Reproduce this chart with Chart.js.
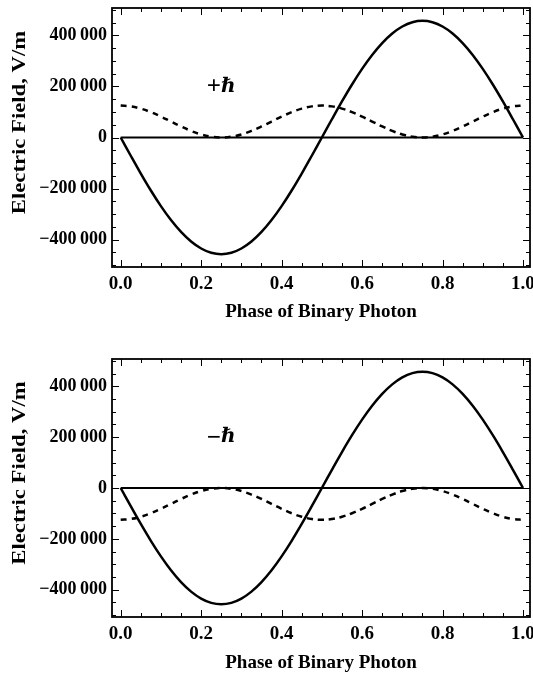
<!DOCTYPE html>
<html><head><meta charset="utf-8">
<script src="https://cdn.jsdelivr.net/npm/chart.js@4/dist/chart.umd.min.js"></script>
<style>html,body{margin:0;padding:0;background:#fff;width:533px;height:675px;overflow:hidden;} canvas{display:block;position:absolute;left:0;}</style>
</head><body>
<canvas id="c1" width="533" height="330" style="top:0px"></canvas>
<canvas id="c2" width="533" height="345" style="top:330px"></canvas>
<script>
const phase = [0, 0.025, 0.05, 0.075, 0.1, 0.125, 0.15, 0.175, 0.2, 0.225, 0.25, 0.275, 0.3, 0.325, 0.35, 0.375, 0.4, 0.425, 0.45, 0.475, 0.5, 0.525, 0.55, 0.575, 0.6, 0.625, 0.65, 0.675, 0.7, 0.725, 0.75, 0.775, 0.8, 0.825, 0.85, 0.875, 0.9, 0.925, 0.95, 0.975, 1];
const fieldSolid = [0, -71500, -141200, -207500, -268600, -323200, -369700, -407200, -434600, -451400, -457000, -451400, -434600, -407200, -369700, -323200, -268600, -207500, -141200, -71500, 0, 71500, 141200, 207500, 268600, 323200, 369700, 407200, 434600, 451400, 457000, 451400, 434600, 407200, 369700, 323200, 268600, 207500, 141200, 71500, 0];
const fieldDashedPlus = [125000, 121900, 113100, 99200, 81800, 62500, 43200, 25800, 11900, 3100, 0, 3100, 11900, 25800, 43200, 62500, 81800, 99200, 113100, 121900, 125000, 121900, 113100, 99200, 81800, 62500, 43200, 25800, 11900, 3100, 0, 3100, 11900, 25800, 43200, 62500, 81800, 99200, 113100, 121900, 125000];
const fieldDashedMinus = [-125000, -121900, -113100, -99200, -81800, -62500, -43200, -25800, -11900, -3100, 0, -3100, -11900, -25800, -43200, -62500, -81800, -99200, -113100, -121900, -125000, -121900, -113100, -99200, -81800, -62500, -43200, -25800, -11900, -3100, 0, -3100, -11900, -25800, -43200, -62500, -81800, -99200, -113100, -121900, -125000];
const zeroPhase = [0, 1];
const zeroField = [0, 0];
const xTickValues = [0, 0.2, 0.4, 0.6, 0.8, 1.0];
const xTickLabels = ['0.0', '0.2', '0.4', '0.6', '0.8', '1.0'];
const yTickValues = [-400000, -200000, 0, 200000, 400000];
const yTickLabels = ['\u2212400\u2009000', '\u2212200\u2009000', '0', '200\u2009000', '400\u2009000'];
const xMinorValues = [0.05, 0.1, 0.15, 0.25, 0.3, 0.35, 0.45, 0.5, 0.55, 0.65, 0.7, 0.75, 0.85, 0.9, 0.95];
const yMinorValues = [-500000, -450000, -350000, -300000, -250000, -150000, -100000, -50000, 50000, 100000, 150000, 250000, 300000, 350000, 450000, 500000];
const panelSigns = ['+', '\u2212'];
const panelSymbol = '\u210F';
const xTitle = 'Phase of Binary Photon';
const yTitle = 'Electric Field, V/m';

const SERIF = '"Liberation Serif", "Times New Roman", "DejaVu Serif", serif';

function pts(xs, ys) { return xs.map((x, i) => ({x: x, y: ys[i]})); }

function framePlugin(sign) {
  return {
    id: 'frame',
    afterDraw(chart) {
      const {ctx, chartArea: a, scales: {x, y}} = chart;
      ctx.save();
      ctx.strokeStyle = '#000';
      ctx.lineWidth = 1;
      ctx.beginPath();
      const tick = (v, len, horiz) => {
        if (horiz) {
          const p = Math.round(x.getPixelForValue(v)) + 0.5;
          ctx.moveTo(p, a.bottom); ctx.lineTo(p, a.bottom - len);
          ctx.moveTo(p, a.top); ctx.lineTo(p, a.top + len);
        } else {
          const p = Math.round(y.getPixelForValue(v)) + 0.5;
          ctx.moveTo(a.left, p); ctx.lineTo(a.left + len, p);
          ctx.moveTo(a.right, p); ctx.lineTo(a.right - len, p);
        }
      };
      xTickValues.forEach(v => tick(v, 7, true));
      xMinorValues.forEach(v => tick(v, 4, true));
      yTickValues.forEach(v => tick(v, 7, false));
      yMinorValues.forEach(v => tick(v, 4, false));
      ctx.stroke();
      ctx.lineWidth = 1.8;
      ctx.strokeRect(a.left, a.top, a.right - a.left, a.bottom - a.top);
      // y title
      ctx.fillStyle = '#000';
      ctx.font = 'bold 18px ' + SERIF;
      ctx.textAlign = 'center';
      ctx.textBaseline = 'middle';
      ctx.translate(20, (a.top + a.bottom) / 2 - 15);
      ctx.rotate(-Math.PI / 2);
      ctx.scale(1.26, 1);
      ctx.fillText(yTitle, 0, 0);
      ctx.restore();
      // panel label
      ctx.save();
      ctx.fillStyle = '#000';
      ctx.textBaseline = 'middle';
      const cx = x.getPixelForValue(0.247), cy = y.getPixelForValue(200000);
      ctx.font = 'bold 25px ' + SERIF;
      ctx.textAlign = 'right';
      ctx.fillText(sign, cx + 1, cy + 1);
      ctx.font = 'bold italic 20px ' + SERIF;
      ctx.textAlign = 'left';
      ctx.fillText(panelSymbol, cx + 1, cy);
      ctx.restore();
    }
  };
}

function makeChart(id, dashed, sign, padTop, xHeight, titlePadBottom) {
  return new Chart(document.getElementById(id), {
    type: 'line',
    data: {
      datasets: [
        {data: pts(zeroPhase, zeroField), borderColor: '#000', borderWidth: 2.2, pointRadius: 0, tension: 0},
        {data: pts(phase, fieldSolid), borderColor: '#000', borderWidth: 2.5, pointRadius: 0, tension: 0.4},
        {data: pts(phase, dashed), borderColor: '#000', borderWidth: 2.5, borderDash: [6, 5], pointRadius: 0, tension: 0.4}
      ]
    },
    options: {
      responsive: false,
      animation: false,
      devicePixelRatio: 1,
      layout: {padding: {top: padTop, right: 3, left: 0, bottom: 0}},
      plugins: {legend: {display: false}, tooltip: {enabled: false}},
      scales: {
        x: {
          type: 'linear',
          min: -0.0216, max: 1.0174,
          grid: {display: false, drawTicks: false},
          border: {display: false},
          afterBuildTicks: s => { s.ticks = xTickValues.map(v => ({value: v})); },
          afterFit: s => { s.height = xHeight; s.paddingLeft = 0; s.paddingRight = 0; },
          ticks: {
            autoSkip: false, maxRotation: 0, padding: 6, color: '#000',
            font: {family: SERIF, size: 19, weight: 'bold'},
            callback: v => xTickLabels[xTickValues.findIndex(t => Math.abs(t - v) < 1e-9)]
          },
          title: {display: true, text: xTitle, color: '#000', font: {family: SERIF, size: 19, weight: 'bold'}, padding: {top: 0, bottom: titlePadBottom}}
        },
        y: {
          min: -507000, max: 507000,
          grid: {display: false, drawTicks: false},
          border: {display: false},
          afterBuildTicks: s => { s.ticks = yTickValues.map(v => ({value: v})); },
          afterFit: s => { s.width = 112; s.paddingTop = 0; s.paddingBottom = 0; },
          ticks: {
            autoSkip: false, padding: 5, color: '#000',
            font: {family: SERIF, size: 18, weight: 'bold'},
            callback: v => yTickLabels[yTickValues.indexOf(v)]
          }
        }
      }
    },
    plugins: [framePlugin(sign)]
  });
}

makeChart('c1', fieldDashedPlus, panelSigns[0], 8, 63, 6.6);
makeChart('c2', fieldDashedMinus, panelSigns[1], 29, 58, 0.6);
</script>
</body></html>
